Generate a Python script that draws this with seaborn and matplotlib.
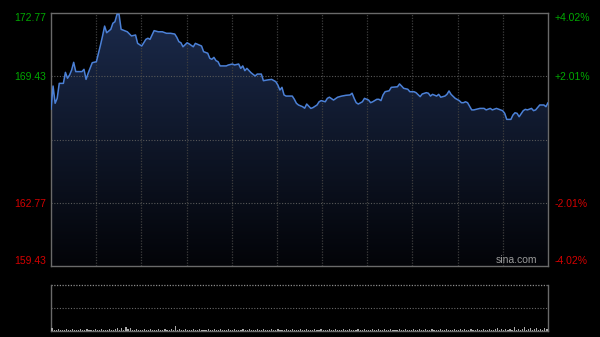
import numpy as np
import pandas as pd
import matplotlib
matplotlib.use("Agg")
import matplotlib.pyplot as plt
import seaborn as sns

# ---- data ----
minutes = [0, 1, 2, 3, 4, 6, 7, 8, 9, 10, 11, 12, 15, 16, 17, 18, 20, 22, 24, 25,
           26, 27, 29, 30, 31, 32, 33, 34, 37, 39, 41, 42, 44, 46, 47, 48, 50, 52, 54, 56,
           58, 60, 61, 62, 63, 64, 66, 67, 69, 70, 73, 74, 76, 77, 78, 79, 80, 81, 82, 85,
           86, 88, 89, 91, 92, 93, 94, 95, 97, 99, 100, 102, 103, 105, 107, 109, 110, 111, 112, 113,
           114, 117, 118, 119, 120, 122, 123, 124, 126, 127, 129, 130, 131, 133, 134, 135, 137, 139, 141, 143,
           145, 146, 147, 148, 149, 151, 152, 154, 155, 156, 158, 159, 160, 161, 162, 164, 165, 168, 169, 170,
           171, 173, 174, 176, 177, 179, 180, 182, 183, 184, 185, 187, 188, 189, 191, 192, 193, 194, 196, 198,
           199, 200, 201, 202, 204, 205, 208, 210, 211, 213, 214, 216, 218, 219, 220, 221, 223, 224, 225, 226,
           227, 229, 230, 231, 233, 234, 235, 237, 239, 240, 241]
prices = [167.69, 168.92, 168.01, 168.27, 169.06, 169.06, 169.64, 169.33, 169.50, 169.76,
          170.17, 169.68, 169.68, 169.80, 169.27, 169.59, 170.15, 170.20, 171.08, 171.56,
          172.08, 171.73, 171.91, 172.23, 172.31, 172.70, 172.70, 171.91, 171.78, 171.56,
          171.61, 171.17, 171.03, 171.38, 171.44, 171.38, 171.84, 171.78, 171.78, 171.70,
          171.70, 171.66, 171.49, 171.26, 171.20, 170.99, 171.20, 171.14, 170.99, 171.17,
          171.03, 170.73, 170.65, 170.38, 170.33, 170.43, 170.26, 170.20, 169.98, 169.98,
          170.03, 170.08, 170.03, 170.08, 169.85, 169.98, 169.73, 169.85, 169.62, 169.45,
          169.55, 169.55, 169.20, 169.24, 169.27, 169.15, 168.97, 168.71, 168.85, 168.45,
          168.39, 168.39, 168.22, 168.01, 167.92, 167.83, 167.75, 167.97, 167.74, 167.78,
          167.92, 168.09, 168.15, 168.09, 168.27, 168.33, 168.18, 168.33, 168.39, 168.43,
          168.45, 168.54, 168.27, 168.04, 167.97, 168.09, 168.27, 168.18, 168.04, 168.09,
          168.22, 168.22, 168.15, 168.45, 168.62, 168.67, 168.85, 168.88, 169.03, 168.92,
          168.80, 168.75, 168.62, 168.62, 168.57, 168.36, 168.50, 168.57, 168.54, 168.39,
          168.48, 168.39, 168.48, 168.33, 168.39, 168.48, 168.66, 168.48, 168.27, 168.15,
          168.04, 168.04, 168.09, 168.04, 167.66, 167.66, 167.74, 167.74, 167.66, 167.74,
          167.66, 167.74, 167.66, 167.62, 167.48, 167.16, 167.16, 167.39, 167.51, 167.48,
          167.30, 167.62, 167.69, 167.66, 167.74, 167.62, 167.66, 167.92, 167.92, 167.83,
          168.04]

vol_minutes = list(range(242))
volumes = [3, 1, 1, 2, 1, 1, 1, 2, 1, 1, 2, 1, 1, 1, 2, 1, 1, 2, 1, 1,
           1, 2, 1, 1, 2, 1, 1, 1, 2, 1, 1, 2, 3, 1, 3, 1, 4, 2, 3, 1,
           1, 2, 1, 1, 1, 2, 1, 1, 2, 1, 1, 1, 2, 1, 1, 2, 1, 1, 2, 1,
           5, 1, 2, 1, 1, 2, 1, 1, 1, 2, 1, 1, 2, 1, 1, 1, 2, 1, 1, 2,
           1, 1, 2, 1, 1, 1, 2, 1, 1, 2, 1, 1, 1, 2, 1, 1, 2, 1, 1, 1,
           2, 1, 1, 2, 1, 1, 1, 2, 1, 1, 2, 1, 1, 1, 2, 1, 1, 2, 1, 1,
           1, 2, 1, 1, 2, 1, 1, 1, 2, 1, 1, 2, 1, 1, 1, 2, 1, 1, 2, 1,
           1, 1, 2, 1, 1, 2, 1, 1, 1, 2, 1, 1, 2, 1, 1, 1, 2, 1, 1, 2,
           1, 1, 2, 1, 1, 2, 1, 1, 1, 2, 1, 1, 2, 1, 1, 1, 2, 1, 1, 2,
           1, 1, 2, 1, 1, 2, 1, 1, 1, 2, 1, 1, 2, 1, 1, 1, 2, 1, 1, 2,
           1, 2, 1, 1, 2, 1, 1, 2, 1, 1, 2, 1, 1, 2, 1, 1, 2, 3, 1, 2,
           1, 2, 1, 2, 1, 4, 1, 2, 1, 2, 4, 1, 2, 3, 1, 2, 3, 1, 2, 1,
           3, 2]

prev_close = 166.10
price_ticks = [172.77, 169.43, 162.77, 159.43]
left_labels = ["172.77", "169.43", "162.77", "159.43"]
right_labels = ["+4.02%", "+2.01%", "-2.01%", "-4.02%"]
label_colors = ["#00a800", "#00a800", "#d40000", "#d40000"]
watermark = "sina.com"

# ---- style ----
sns.set_theme(style="dark")
plt.rcParams["font.family"] = ["Liberation Sans", "DejaVu Sans"]

W, H = 600, 337
fig = plt.figure(figsize=(W / 100, H / 100), dpi=100, facecolor="black")
ax = fig.add_axes([51 / W, (H - 266) / H, 497 / W, 253 / H])
ax.set_facecolor("black")

ymin, ymax = price_ticks[-1], price_ticks[0]
ax.set_xlim(0, 241)
ax.set_ylim(ymin, ymax)

df = pd.DataFrame({"minute": minutes, "price": prices})

# gradient fill under line
poly = ax.fill_between(df["minute"], df["price"], ymin, color="none", lw=0)
top_c = np.array([27, 42, 75]) / 255
bot_c = np.array([3, 4, 8]) / 255
t = np.linspace(0, 1, 256)[:, None, None]
grad = top_c * (1 - t) + bot_c * t
im = ax.imshow(grad, extent=[0, 241, ymin, ymax], aspect="auto", origin="upper", zorder=1)
im.set_clip_path(poly.get_paths()[0], transform=ax.transData)

# grid
vgrid_kw = dict(color="#3e3e3e", lw=0.9, ls=(0, (1, 1.2)), zorder=2)
for k in range(1, 11):
    ax.axvline(241 * k / 11, **vgrid_kw)
for yv in [price_ticks[1], prev_close, price_ticks[2]]:
    ax.axhline(yv, color="#585858", lw=0.8, ls=(0, (1, 1.5)), zorder=2)

sns.lineplot(data=df, x="minute", y="price", ax=ax, color="#4b80d6", lw=1.1, zorder=3)

ax.set_xlabel("")
ax.set_ylabel("")
ax.set_xticks([])
ax.set_yticks(price_ticks)
ax.set_yticklabels(left_labels)
ax.tick_params(axis="y", length=0, pad=3.5, labelsize=7.5)
for lab, c in zip(ax.get_yticklabels(), label_colors):
    lab.set_color(c)
ax.get_yticklabels()[0].set_va("top")
ax.get_yticklabels()[-1].set_va("bottom")
for s in ax.spines.values():
    s.set_color("#6a6a6a")
    s.set_linewidth(1.0)
ax.grid(False)

ax2 = ax.twinx()
ax2.set_ylim(ymin, ymax)
ax2.set_yticks(price_ticks)
ax2.set_yticklabels(right_labels)
ax2.tick_params(axis="y", length=0, pad=4.5, labelsize=7.5)
for lab, c in zip(ax2.get_yticklabels(), label_colors):
    lab.set_color(c)
ax2.get_yticklabels()[0].set_va("top")
ax2.get_yticklabels()[-1].set_va("bottom")
for s in ax2.spines.values():
    s.set_visible(False)
ax2.grid(False)

ax.text(0.978, 0.004, watermark, transform=ax.transAxes, ha="right", va="bottom",
        color="#9a9a9a", fontsize=7.5, zorder=4)

# ---- volume panel ----
axv = fig.add_axes([51 / W, (H - 331) / H, 497 / W, 46 / H])
axv.set_facecolor("black")
axv.set_xlim(-0.5, 241.5)
axv.set_ylim(0, 46)
axv.bar(vol_minutes, volumes, width=0.55, color="#a8a8a8", lw=0, zorder=3)
axv.axhline(23, color="#6a6a6a", lw=0.8, ls=(0, (1, 1.5)), zorder=2)
axv.axhline(46, color="#8a8a8a", lw=0.9, ls=(0, (1, 1.2)), zorder=2, clip_on=False)
axv.set_xticks([])
axv.set_yticks([])
axv.grid(False)
axv.spines["top"].set_visible(False)
for side in ["left", "right", "bottom"]:
    axv.spines[side].set_color("#6a6a6a")
    axv.spines[side].set_linewidth(1.0)

fig.savefig("out.png", dpi=100, facecolor="black")
